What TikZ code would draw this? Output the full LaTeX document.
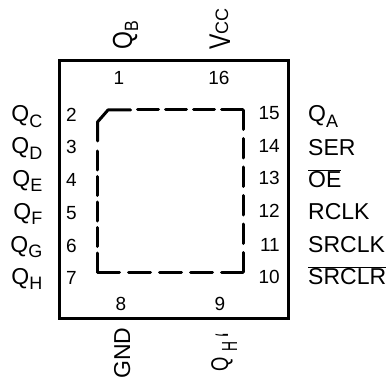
\documentclass[tikz,border=0pt]{standalone}
\usepackage{fontspec}
\setmainfont{Liberation Sans}
\newcommand{\pinsub}[3][18]{#2\raisebox{-0.22em}{\fontsize{#1}{#1}\selectfont #3}}
\newcommand{\pinbar}[1]{$\overline{\mbox{#1}}$}
\tikzset{
  pinnum/.style={inner sep=0pt,font=\fontsize{19}{19}\selectfont},
  pinname/.style={inner sep=0pt,font=\fontsize{23}{23}\selectfont},
  outline/.style={line width=3pt,line cap=round,line join=round},
}
\begin{document}
\begin{tikzpicture}[x=1pt,y=-1pt]
 	\useasboundingbox (0,0) rectangle (388,382);
 	\draw[line width=3pt,line join=miter] (59,61) rectangle (288,318);
 	\coordinate (TLa) at (97.5,141);
 	\coordinate (TLb) at (97.5,122);
 	\coordinate (TLc) at (108,110);
 	\coordinate (TLd) at (130.5,110);
 	\coordinate (TS) at (137.5,110);
 	\coordinate (TR) at (243,110);
 	\coordinate (BR) at (243,272);
 	\coordinate (BL) at (97.5,272);
 	\coordinate (LS) at (97.5,146);
 	\draw[outline] (TLa)--(TLb)--(TLc)--(TLd);
 	\foreach \a/\b/\on/\off in {%
 		TS/TR/21/7, BR/TR/19.5/9, BL/BR/22/9, BL/LS/19/6.5
 	}{%
 		\draw[outline,dash pattern=on \on pt off \off pt] (\a)--(\b);
 	}%
 	% left side
 	\foreach \t/\y/\n/\l in {%
 		2/122/\pinsub{Q}{C}/C, 3/154/\pinsub{Q}{D}/D, 4/186/\pinsub{Q}{E}/E,
 		5/219/\pinsub{Q}{F}/F, 6/252/\pinsub{Q}{G}/G, 7/284/\pinsub{Q}{H}/H
 	}{%
 		\node[pinnum,anchor=base west] (P\t) at (66,\y) {\t};
 		\node[pinname,anchor=base east] (N\l) at (42.5,\y) {\n};
 	}%
 	% right side
 	\foreach \t/\y/\v/\n/\l in {%
 		15/120/122/\pinsub{Q}{A}/A, 14/153/155.5/SER/SER, 13/185/187.5/\pinbar{OE}/OE,
 		12/218/219.5/RCLK/RCLK, 11/251/252.5/SRCLK/SRCLK, 10/283/284.5/\pinbar{SRCLR}/SRCLR
 	}{%
 		\node[pinnum,anchor=base east] (P\t) at (280,\y) {\t};
 		\node[pinname,anchor=base west] (N\l) at (308,\v) {\n};
 	}%
 	% top and bottom
 	\foreach \t/\x/\y in {1/119/85, 16/219/85, 8/121/310, 9/220/310}{%
 		\node[pinnum,anchor=base] (P\t) at (\x,\y) {\t};
 	}%
 	\node[pinname,rotate=90,anchor=base west] (NB) at (132,50) {\scalebox{1}[1.2]{\pinsub[16]{Q}{B}}};
 	\node[pinname,rotate=90,anchor=base west] (NV) at (230,50) {\scalebox{1}[1.3]{V}\raisebox{2pt}{\fontsize{18}{18}\selectfont CC}};
 	\node[pinname,rotate=90,anchor=base west] (NG) at (130,379) {GND};
 	\node[pinname,rotate=90,anchor=base west] (NH) at (228,372) {\scalebox{.8}[1.05]{Q}\kern6pt\raisebox{-9pt}{\scalebox{.6}[.95]{H}}\kern4pt\raisebox{-26pt}{\fontsize{40}{40}\selectfont\scalebox{.5}[1.4]{`}}};
\end{tikzpicture}
\end{document}
